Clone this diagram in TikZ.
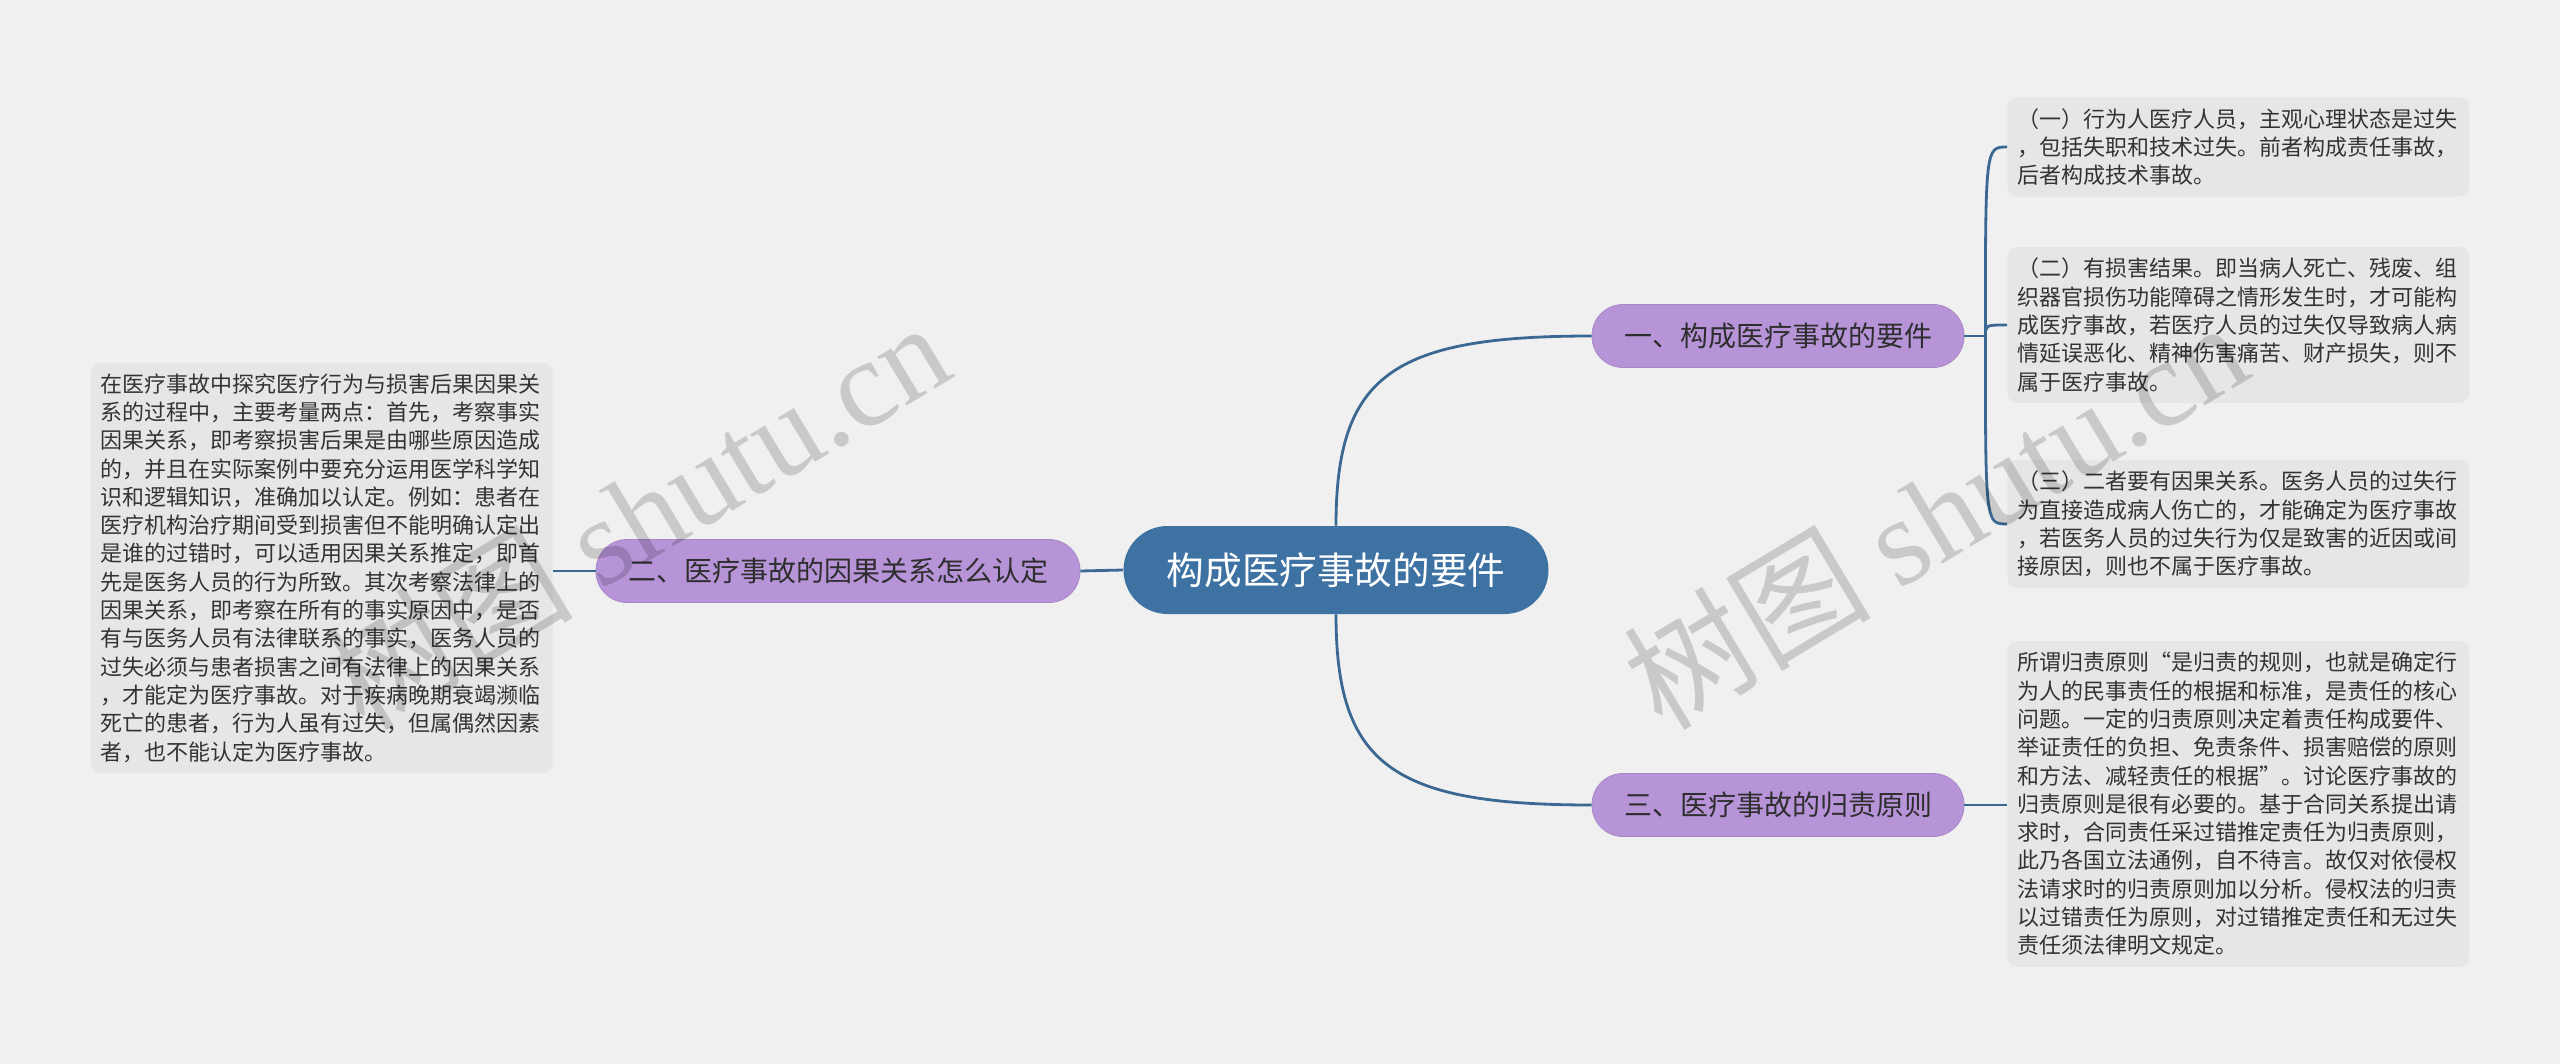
\documentclass[tikz,border=0pt]{standalone}
\usepackage{fontspec}
\setmainfont{Noto Sans CJK SC}
\newfontfamily\wmfont{Liberation Serif}
\usepackage{xcolor}
\usetikzlibrary{positioning}
\definecolor{bgcol}{HTML}{F0F0F0}
\definecolor{leafcol}{HTML}{E6E6E6}
\definecolor{rootcol}{HTML}{3E72A3}
\definecolor{branchcol}{HTML}{B794D8}
\definecolor{linkcol}{HTML}{3A6893}
\definecolor{txtcol}{HTML}{333333}

\begin{document}
\begin{tikzpicture}[
  x=0.5pt, y=-0.5pt,
  rootbox/.style={fill=rootcol, text=white, rounded corners=22pt, minimum width=212.5pt, minimum height=44pt, font=\fontsize{18.8pt}{22pt}\selectfont},
  branch/.style={fill=branchcol, draw=branchcol!92!black, line width=0.4pt, rounded corners=15.5pt, inner xsep=16pt, minimum height=31.5pt, text=txtcol!90!black, font=\fontsize{14pt}{16pt}\selectfont},
  leaf/.style={fill=leafcol, rounded corners=5pt, text width=221pt, align=left, inner xsep=5pt, inner ysep=5.5pt, text=txtcol, font=\fontsize{11pt}{14.15pt}\selectfont},
  link/.style={draw=linkcol, line width=1.4pt},
  watermark/.style={text=black, text opacity=0.16, rotate=31, font=\fontsize{62pt}{62pt}\selectfont}
]
\useasboundingbox (0,0) rectangle (2560,1064);
\fill[bgcol] (0,0) rectangle (2560,1064);

% centre and main branches
\node[rootbox] (root) at (1336,570) {构成医疗事故的要件};
\node[branch] (req) at (1778,336) {一、构成医疗事故的要件};
\node[branch] (cause) at (838,571) {二、医疗事故的因果关系怎么认定};
\node[branch] (rule) at (1778,805) {三、医疗事故的归责原则};

% text boxes
\node[leaf, anchor=west] (req1) at (2007,147) {（一）行为人医疗人员，主观心理状态是过失\\，包括失职和技术过失。前者构成责任事故，\\后者构成技术事故。};
\node[leaf, anchor=west] (req2) at (2007,325) {（二）有损害结果。即当病人死亡、残废、组\\织器官损伤功能障碍之情形发生时，才可能构\\成医疗事故，若医疗人员的过失仅导致病人病\\情延误恶化、精神伤害痛苦、财产损失，则不\\属于医疗事故。};
\node[leaf, anchor=west] (req3) at (2007,524) {（三）二者要有因果关系。医务人员的过失行\\为直接造成病人伤亡的，才能确定为医疗事故\\，若医务人员的过失行为仅是致害的近因或间\\接原因，则也不属于医疗事故。};
\node[leaf, anchor=east] (causetxt) at (553,568) {在医疗事故中探究医疗行为与损害后果因果关\\系的过程中，主要考量两点：首先，考察事实\\因果关系，即考察损害后果是由哪些原因造成\\的，并且在实际案例中要充分运用医学科学知\\识和逻辑知识，准确加以认定。例如：患者在\\医疗机构治疗期间受到损害但不能明确认定出\\是谁的过错时，可以适用因果关系推定，即首\\先是医务人员的行为所致。其次考察法律上的\\因果关系，即考察在所有的事实原因中，是否\\有与医务人员有法律联系的事实，医务人员的\\过失必须与患者损害之间有法律上的因果关系\\，才能定为医疗事故。对于疾病晚期衰竭濒临\\死亡的患者，行为人虽有过失，但属偶然因素\\者，也不能认定为医疗事故。};
\node[leaf, anchor=west] (ruletxt) at (2007,804) {所谓归责原则“是归责的规则，也就是确定行\\为人的民事责任的根据和标准，是责任的核心\\问题。一定的归责原则决定着责任构成要件、\\举证责任的负担、免责条件、损害赔偿的原则\\和方法、减轻责任的根据”。讨论医疗事故的\\归责原则是很有必要的。基于合同关系提出请\\求时，合同责任采过错推定责任为归责原则，\\此乃各国立法通例，自不待言。故仅对依侵权\\法请求时的归责原则加以分析。侵权法的归责\\以过错责任为原则，对过错推定责任和无过失\\责任须法律明文规定。};

% connectors
\draw[link] (root.west) -- (cause.east);
\draw[link] (root.north) .. controls +(0,-150) and +(-200,0) .. (req.west);
\draw[link] (root.south) .. controls +(0,150) and +(-200,0) .. (rule.west);
\draw[link] (cause.west) -- (cause.west -| causetxt.east);
\draw[link] (req.east) -- ++(21,0) coordinate (fork);
\foreach \n in {req1,req2,req3}
  \draw[link] (fork) .. controls (fork |- \n.west) .. (\n.west);
\draw[link] (rule.east) -- (rule.east -| ruletxt.west);

% watermarks
\node[watermark] (wmleft) at (637,514) {树图 {\wmfont shutu.cn}};
\node[watermark] (wmright) at (1935,514) {树图 {\wmfont shutu.cn}};
\end{tikzpicture}
\end{document}
